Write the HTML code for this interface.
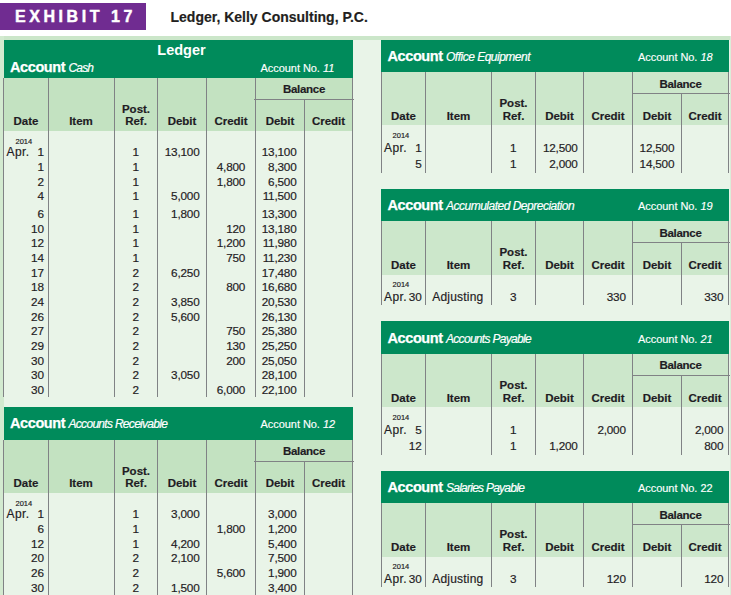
<!DOCTYPE html>
<html><head><meta charset="utf-8"><title>Exhibit 17</title>
<style>
html,body{margin:0;padding:0;}
body{width:731px;height:595px;background:#fff;position:relative;overflow:hidden;font-family:"Liberation Sans",sans-serif;color:#1f1c24;}
.r{position:absolute;}
.t{position:absolute;white-space:nowrap;-webkit-text-stroke:0.18px #1f1c24;}
.b{font-weight:bold;}
.i{font-style:italic;}
.w{color:#fff;-webkit-text-stroke:0;}
</style></head><body>
<div class="r" style="left:0px;top:36px;width:731px;height:559px;background:#e9f4e8;"></div>
<div class="r" style="left:0px;top:36px;width:731px;height:4px;background:#cbe6c9;"></div>
<div class="r" style="left:0px;top:36px;width:4px;height:559px;background:#d3ead0;"></div>
<div class="r" style="left:729.5px;top:36px;width:1.5px;height:559px;background:#dcedd9;"></div>
<div class="r" style="left:0px;top:3px;width:146px;height:26.5px;background:#702c91;"></div>
<div class="t b w" style="top:9.00px;font-size:16px;line-height:16px;left:15.00px;letter-spacing:3.55px;-webkit-text-stroke:0.45px #fff;">EXHIBIT 17</div>
<div class="t b" style="top:10.00px;font-size:14px;line-height:14px;left:170.50px;color:#231f20;">Ledger, Kelly Consulting, P.C.</div>
<div class="r" style="left:4px;top:40px;width:349px;height:37.5px;background:#008b5b;"></div>
<div class="r" style="left:4px;top:77.5px;width:349px;height:53.5px;background:#c3e2c1;"></div>
<div class="r" style="left:3px;top:77.5px;width:1px;height:319.5px;background:#808285;"></div>
<div class="r" style="left:48px;top:77.5px;width:1px;height:319.5px;background:#808285;"></div>
<div class="r" style="left:114px;top:77.5px;width:1px;height:319.5px;background:#808285;"></div>
<div class="r" style="left:157px;top:77.5px;width:1px;height:319.5px;background:#808285;"></div>
<div class="r" style="left:206px;top:77.5px;width:1px;height:319.5px;background:#808285;"></div>
<div class="r" style="left:255px;top:77.5px;width:1px;height:319.5px;background:#808285;"></div>
<div class="r" style="left:304px;top:99px;width:1px;height:298px;background:#808285;"></div>
<div class="r" style="left:352px;top:77.5px;width:1px;height:319.5px;background:#808285;"></div>
<div class="r" style="left:254px;top:99px;width:100px;height:1px;background:#808285;"></div>
<div class="t b w" style="top:60.00px;font-size:14.5px;line-height:14.5px;left:10.00px;letter-spacing:-0.4px;-webkit-text-stroke:0.25px #fff;">Account</div>
<div class="t i w" style="top:62.00px;font-size:12px;line-height:12px;left:68.50px;letter-spacing:-0.85px;-webkit-text-stroke:0.2px #fff;">Cash</div>
<div class="t w" style="top:63.00px;font-size:11px;line-height:11px;left:260.50px;letter-spacing:-0.05px;-webkit-text-stroke:0.15px #fff;">Account No. <i>11</i></div>
<div class="t b" style="top:116.00px;font-size:11.5px;line-height:11.5px;left:-74.00px;width:200px;text-align:center;">Date</div>
<div class="t b" style="top:116.00px;font-size:11.5px;line-height:11.5px;left:-19.00px;width:200px;text-align:center;">Item</div>
<div class="t b" style="top:104.00px;font-size:11.5px;line-height:11.5px;left:36.00px;width:200px;text-align:center;">Post.</div>
<div class="t b" style="top:116.00px;font-size:11.5px;line-height:11.5px;left:36.00px;width:200px;text-align:center;">Ref.</div>
<div class="t b" style="top:116.00px;font-size:11.5px;line-height:11.5px;left:82.00px;width:200px;text-align:center;">Debit</div>
<div class="t b" style="top:116.00px;font-size:11.5px;line-height:11.5px;left:131.00px;width:200px;text-align:center;">Credit</div>
<div class="t b" style="top:84.00px;font-size:11.5px;line-height:11.5px;left:204.00px;width:200px;text-align:center;letter-spacing:-0.3px;">Balance</div>
<div class="t b" style="top:116.00px;font-size:11.5px;line-height:11.5px;left:180.00px;width:200px;text-align:center;">Debit</div>
<div class="t b" style="top:116.00px;font-size:11.5px;line-height:11.5px;left:228.50px;width:200px;text-align:center;">Credit</div>
<div class="t " style="top:138.00px;font-size:7.5px;line-height:7.5px;left:15.50px;">2014</div>
<div class="t " style="top:146.00px;font-size:12.0px;line-height:12.0px;left:6.50px;letter-spacing:0.45px;">Apr.</div>
<div class="t " style="top:146.00px;font-size:11.75px;line-height:11.75px;left:-156.00px;width:200px;text-align:right;">1</div>
<div class="t " style="top:146.00px;font-size:11.75px;line-height:11.75px;left:35.70px;width:200px;text-align:center;">1</div>
<div class="t " style="top:146.00px;font-size:11.75px;line-height:11.75px;left:-0.50px;width:200px;text-align:right;letter-spacing:-0.2px;">13,100</div>
<div class="t " style="top:146.00px;font-size:11.75px;line-height:11.75px;left:96.50px;width:200px;text-align:right;letter-spacing:-0.2px;">13,100</div>
<div class="t " style="top:161.00px;font-size:11.75px;line-height:11.75px;left:-156.00px;width:200px;text-align:right;">1</div>
<div class="t " style="top:161.00px;font-size:11.75px;line-height:11.75px;left:35.70px;width:200px;text-align:center;">1</div>
<div class="t " style="top:161.00px;font-size:11.75px;line-height:11.75px;left:45.20px;width:200px;text-align:right;letter-spacing:-0.2px;">4,800</div>
<div class="t " style="top:161.00px;font-size:11.75px;line-height:11.75px;left:96.50px;width:200px;text-align:right;letter-spacing:-0.2px;">8,300</div>
<div class="t " style="top:176.00px;font-size:11.75px;line-height:11.75px;left:-156.00px;width:200px;text-align:right;">2</div>
<div class="t " style="top:176.00px;font-size:11.75px;line-height:11.75px;left:35.70px;width:200px;text-align:center;">1</div>
<div class="t " style="top:176.00px;font-size:11.75px;line-height:11.75px;left:45.20px;width:200px;text-align:right;letter-spacing:-0.2px;">1,800</div>
<div class="t " style="top:176.00px;font-size:11.75px;line-height:11.75px;left:96.50px;width:200px;text-align:right;letter-spacing:-0.2px;">6,500</div>
<div class="t " style="top:190.00px;font-size:11.75px;line-height:11.75px;left:-156.00px;width:200px;text-align:right;">4</div>
<div class="t " style="top:190.00px;font-size:11.75px;line-height:11.75px;left:35.70px;width:200px;text-align:center;">1</div>
<div class="t " style="top:190.00px;font-size:11.75px;line-height:11.75px;left:-0.50px;width:200px;text-align:right;letter-spacing:-0.2px;">5,000</div>
<div class="t " style="top:190.00px;font-size:11.75px;line-height:11.75px;left:96.50px;width:200px;text-align:right;letter-spacing:-0.2px;">11,500</div>
<div class="t " style="top:208.00px;font-size:11.75px;line-height:11.75px;left:-156.00px;width:200px;text-align:right;">6</div>
<div class="t " style="top:208.00px;font-size:11.75px;line-height:11.75px;left:35.70px;width:200px;text-align:center;">1</div>
<div class="t " style="top:208.00px;font-size:11.75px;line-height:11.75px;left:-0.50px;width:200px;text-align:right;letter-spacing:-0.2px;">1,800</div>
<div class="t " style="top:208.00px;font-size:11.75px;line-height:11.75px;left:96.50px;width:200px;text-align:right;letter-spacing:-0.2px;">13,300</div>
<div class="t " style="top:223.00px;font-size:11.75px;line-height:11.75px;left:-156.00px;width:200px;text-align:right;">10</div>
<div class="t " style="top:223.00px;font-size:11.75px;line-height:11.75px;left:35.70px;width:200px;text-align:center;">1</div>
<div class="t " style="top:223.00px;font-size:11.75px;line-height:11.75px;left:45.20px;width:200px;text-align:right;letter-spacing:-0.2px;">120</div>
<div class="t " style="top:223.00px;font-size:11.75px;line-height:11.75px;left:96.50px;width:200px;text-align:right;letter-spacing:-0.2px;">13,180</div>
<div class="t " style="top:237.00px;font-size:11.75px;line-height:11.75px;left:-156.00px;width:200px;text-align:right;">12</div>
<div class="t " style="top:237.00px;font-size:11.75px;line-height:11.75px;left:35.70px;width:200px;text-align:center;">1</div>
<div class="t " style="top:237.00px;font-size:11.75px;line-height:11.75px;left:45.20px;width:200px;text-align:right;letter-spacing:-0.2px;">1,200</div>
<div class="t " style="top:237.00px;font-size:11.75px;line-height:11.75px;left:96.50px;width:200px;text-align:right;letter-spacing:-0.2px;">11,980</div>
<div class="t " style="top:252.00px;font-size:11.75px;line-height:11.75px;left:-156.00px;width:200px;text-align:right;">14</div>
<div class="t " style="top:252.00px;font-size:11.75px;line-height:11.75px;left:35.70px;width:200px;text-align:center;">1</div>
<div class="t " style="top:252.00px;font-size:11.75px;line-height:11.75px;left:45.20px;width:200px;text-align:right;letter-spacing:-0.2px;">750</div>
<div class="t " style="top:252.00px;font-size:11.75px;line-height:11.75px;left:96.50px;width:200px;text-align:right;letter-spacing:-0.2px;">11,230</div>
<div class="t " style="top:267.00px;font-size:11.75px;line-height:11.75px;left:-156.00px;width:200px;text-align:right;">17</div>
<div class="t " style="top:267.00px;font-size:11.75px;line-height:11.75px;left:35.70px;width:200px;text-align:center;">2</div>
<div class="t " style="top:267.00px;font-size:11.75px;line-height:11.75px;left:-0.50px;width:200px;text-align:right;letter-spacing:-0.2px;">6,250</div>
<div class="t " style="top:267.00px;font-size:11.75px;line-height:11.75px;left:96.50px;width:200px;text-align:right;letter-spacing:-0.2px;">17,480</div>
<div class="t " style="top:281.00px;font-size:11.75px;line-height:11.75px;left:-156.00px;width:200px;text-align:right;">18</div>
<div class="t " style="top:281.00px;font-size:11.75px;line-height:11.75px;left:35.70px;width:200px;text-align:center;">2</div>
<div class="t " style="top:281.00px;font-size:11.75px;line-height:11.75px;left:45.20px;width:200px;text-align:right;letter-spacing:-0.2px;">800</div>
<div class="t " style="top:281.00px;font-size:11.75px;line-height:11.75px;left:96.50px;width:200px;text-align:right;letter-spacing:-0.2px;">16,680</div>
<div class="t " style="top:296.00px;font-size:11.75px;line-height:11.75px;left:-156.00px;width:200px;text-align:right;">24</div>
<div class="t " style="top:296.00px;font-size:11.75px;line-height:11.75px;left:35.70px;width:200px;text-align:center;">2</div>
<div class="t " style="top:296.00px;font-size:11.75px;line-height:11.75px;left:-0.50px;width:200px;text-align:right;letter-spacing:-0.2px;">3,850</div>
<div class="t " style="top:296.00px;font-size:11.75px;line-height:11.75px;left:96.50px;width:200px;text-align:right;letter-spacing:-0.2px;">20,530</div>
<div class="t " style="top:311.00px;font-size:11.75px;line-height:11.75px;left:-156.00px;width:200px;text-align:right;">26</div>
<div class="t " style="top:311.00px;font-size:11.75px;line-height:11.75px;left:35.70px;width:200px;text-align:center;">2</div>
<div class="t " style="top:311.00px;font-size:11.75px;line-height:11.75px;left:-0.50px;width:200px;text-align:right;letter-spacing:-0.2px;">5,600</div>
<div class="t " style="top:311.00px;font-size:11.75px;line-height:11.75px;left:96.50px;width:200px;text-align:right;letter-spacing:-0.2px;">26,130</div>
<div class="t " style="top:325.00px;font-size:11.75px;line-height:11.75px;left:-156.00px;width:200px;text-align:right;">27</div>
<div class="t " style="top:325.00px;font-size:11.75px;line-height:11.75px;left:35.70px;width:200px;text-align:center;">2</div>
<div class="t " style="top:325.00px;font-size:11.75px;line-height:11.75px;left:45.20px;width:200px;text-align:right;letter-spacing:-0.2px;">750</div>
<div class="t " style="top:325.00px;font-size:11.75px;line-height:11.75px;left:96.50px;width:200px;text-align:right;letter-spacing:-0.2px;">25,380</div>
<div class="t " style="top:340.00px;font-size:11.75px;line-height:11.75px;left:-156.00px;width:200px;text-align:right;">29</div>
<div class="t " style="top:340.00px;font-size:11.75px;line-height:11.75px;left:35.70px;width:200px;text-align:center;">2</div>
<div class="t " style="top:340.00px;font-size:11.75px;line-height:11.75px;left:45.20px;width:200px;text-align:right;letter-spacing:-0.2px;">130</div>
<div class="t " style="top:340.00px;font-size:11.75px;line-height:11.75px;left:96.50px;width:200px;text-align:right;letter-spacing:-0.2px;">25,250</div>
<div class="t " style="top:355.00px;font-size:11.75px;line-height:11.75px;left:-156.00px;width:200px;text-align:right;">30</div>
<div class="t " style="top:355.00px;font-size:11.75px;line-height:11.75px;left:35.70px;width:200px;text-align:center;">2</div>
<div class="t " style="top:355.00px;font-size:11.75px;line-height:11.75px;left:45.20px;width:200px;text-align:right;letter-spacing:-0.2px;">200</div>
<div class="t " style="top:355.00px;font-size:11.75px;line-height:11.75px;left:96.50px;width:200px;text-align:right;letter-spacing:-0.2px;">25,050</div>
<div class="t " style="top:369.00px;font-size:11.75px;line-height:11.75px;left:-156.00px;width:200px;text-align:right;">30</div>
<div class="t " style="top:369.00px;font-size:11.75px;line-height:11.75px;left:35.70px;width:200px;text-align:center;">2</div>
<div class="t " style="top:369.00px;font-size:11.75px;line-height:11.75px;left:-0.50px;width:200px;text-align:right;letter-spacing:-0.2px;">3,050</div>
<div class="t " style="top:369.00px;font-size:11.75px;line-height:11.75px;left:96.50px;width:200px;text-align:right;letter-spacing:-0.2px;">28,100</div>
<div class="t " style="top:384.00px;font-size:11.75px;line-height:11.75px;left:-156.00px;width:200px;text-align:right;">30</div>
<div class="t " style="top:384.00px;font-size:11.75px;line-height:11.75px;left:35.70px;width:200px;text-align:center;">2</div>
<div class="t " style="top:384.00px;font-size:11.75px;line-height:11.75px;left:45.20px;width:200px;text-align:right;letter-spacing:-0.2px;">6,000</div>
<div class="t " style="top:384.00px;font-size:11.75px;line-height:11.75px;left:96.50px;width:200px;text-align:right;letter-spacing:-0.2px;">22,100</div>
<div class="t b w" style="top:43.00px;font-size:14.5px;line-height:14.5px;left:157.30px;">Ledger</div>
<div class="r" style="left:4px;top:407px;width:349px;height:32.5px;background:#008b5b;"></div>
<div class="r" style="left:4px;top:439.5px;width:349px;height:53.5px;background:#c3e2c1;"></div>
<div class="r" style="left:3px;top:439.5px;width:1px;height:160.5px;background:#808285;"></div>
<div class="r" style="left:48px;top:439.5px;width:1px;height:160.5px;background:#808285;"></div>
<div class="r" style="left:114px;top:439.5px;width:1px;height:160.5px;background:#808285;"></div>
<div class="r" style="left:157px;top:439.5px;width:1px;height:160.5px;background:#808285;"></div>
<div class="r" style="left:206px;top:439.5px;width:1px;height:160.5px;background:#808285;"></div>
<div class="r" style="left:255px;top:439.5px;width:1px;height:160.5px;background:#808285;"></div>
<div class="r" style="left:304px;top:461px;width:1px;height:139px;background:#808285;"></div>
<div class="r" style="left:352px;top:439.5px;width:1px;height:160.5px;background:#808285;"></div>
<div class="r" style="left:254px;top:461px;width:100px;height:1px;background:#808285;"></div>
<div class="t b w" style="top:416.00px;font-size:14.5px;line-height:14.5px;left:10.00px;letter-spacing:-0.4px;-webkit-text-stroke:0.25px #fff;">Account</div>
<div class="t i w" style="top:418.00px;font-size:12px;line-height:12px;left:68.50px;letter-spacing:-0.7px;-webkit-text-stroke:0.2px #fff;">Accounts Receivable</div>
<div class="t w" style="top:419.00px;font-size:11px;line-height:11px;left:260.50px;letter-spacing:-0.05px;-webkit-text-stroke:0.15px #fff;">Account No. <i>12</i></div>
<div class="t b" style="top:478.00px;font-size:11.5px;line-height:11.5px;left:-74.00px;width:200px;text-align:center;">Date</div>
<div class="t b" style="top:478.00px;font-size:11.5px;line-height:11.5px;left:-19.00px;width:200px;text-align:center;">Item</div>
<div class="t b" style="top:466.00px;font-size:11.5px;line-height:11.5px;left:36.00px;width:200px;text-align:center;">Post.</div>
<div class="t b" style="top:478.00px;font-size:11.5px;line-height:11.5px;left:36.00px;width:200px;text-align:center;">Ref.</div>
<div class="t b" style="top:478.00px;font-size:11.5px;line-height:11.5px;left:82.00px;width:200px;text-align:center;">Debit</div>
<div class="t b" style="top:478.00px;font-size:11.5px;line-height:11.5px;left:131.00px;width:200px;text-align:center;">Credit</div>
<div class="t b" style="top:446.00px;font-size:11.5px;line-height:11.5px;left:204.00px;width:200px;text-align:center;letter-spacing:-0.3px;">Balance</div>
<div class="t b" style="top:478.00px;font-size:11.5px;line-height:11.5px;left:180.00px;width:200px;text-align:center;">Debit</div>
<div class="t b" style="top:478.00px;font-size:11.5px;line-height:11.5px;left:228.50px;width:200px;text-align:center;">Credit</div>
<div class="t " style="top:500.00px;font-size:7.5px;line-height:7.5px;left:15.50px;">2014</div>
<div class="t " style="top:508.00px;font-size:12.0px;line-height:12.0px;left:6.50px;letter-spacing:0.45px;">Apr.</div>
<div class="t " style="top:508.00px;font-size:11.75px;line-height:11.75px;left:-156.00px;width:200px;text-align:right;">1</div>
<div class="t " style="top:508.00px;font-size:11.75px;line-height:11.75px;left:35.70px;width:200px;text-align:center;">1</div>
<div class="t " style="top:508.00px;font-size:11.75px;line-height:11.75px;left:-0.50px;width:200px;text-align:right;letter-spacing:-0.2px;">3,000</div>
<div class="t " style="top:508.00px;font-size:11.75px;line-height:11.75px;left:96.50px;width:200px;text-align:right;letter-spacing:-0.2px;">3,000</div>
<div class="t " style="top:523.00px;font-size:11.75px;line-height:11.75px;left:-156.00px;width:200px;text-align:right;">6</div>
<div class="t " style="top:523.00px;font-size:11.75px;line-height:11.75px;left:35.70px;width:200px;text-align:center;">1</div>
<div class="t " style="top:523.00px;font-size:11.75px;line-height:11.75px;left:45.20px;width:200px;text-align:right;letter-spacing:-0.2px;">1,800</div>
<div class="t " style="top:523.00px;font-size:11.75px;line-height:11.75px;left:96.50px;width:200px;text-align:right;letter-spacing:-0.2px;">1,200</div>
<div class="t " style="top:538.00px;font-size:11.75px;line-height:11.75px;left:-156.00px;width:200px;text-align:right;">12</div>
<div class="t " style="top:538.00px;font-size:11.75px;line-height:11.75px;left:35.70px;width:200px;text-align:center;">1</div>
<div class="t " style="top:538.00px;font-size:11.75px;line-height:11.75px;left:-0.50px;width:200px;text-align:right;letter-spacing:-0.2px;">4,200</div>
<div class="t " style="top:538.00px;font-size:11.75px;line-height:11.75px;left:96.50px;width:200px;text-align:right;letter-spacing:-0.2px;">5,400</div>
<div class="t " style="top:552.00px;font-size:11.75px;line-height:11.75px;left:-156.00px;width:200px;text-align:right;">20</div>
<div class="t " style="top:552.00px;font-size:11.75px;line-height:11.75px;left:35.70px;width:200px;text-align:center;">2</div>
<div class="t " style="top:552.00px;font-size:11.75px;line-height:11.75px;left:-0.50px;width:200px;text-align:right;letter-spacing:-0.2px;">2,100</div>
<div class="t " style="top:552.00px;font-size:11.75px;line-height:11.75px;left:96.50px;width:200px;text-align:right;letter-spacing:-0.2px;">7,500</div>
<div class="t " style="top:567.00px;font-size:11.75px;line-height:11.75px;left:-156.00px;width:200px;text-align:right;">26</div>
<div class="t " style="top:567.00px;font-size:11.75px;line-height:11.75px;left:35.70px;width:200px;text-align:center;">2</div>
<div class="t " style="top:567.00px;font-size:11.75px;line-height:11.75px;left:45.20px;width:200px;text-align:right;letter-spacing:-0.2px;">5,600</div>
<div class="t " style="top:567.00px;font-size:11.75px;line-height:11.75px;left:96.50px;width:200px;text-align:right;letter-spacing:-0.2px;">1,900</div>
<div class="t " style="top:582.00px;font-size:11.75px;line-height:11.75px;left:-156.00px;width:200px;text-align:right;">30</div>
<div class="t " style="top:582.00px;font-size:11.75px;line-height:11.75px;left:35.70px;width:200px;text-align:center;">2</div>
<div class="t " style="top:582.00px;font-size:11.75px;line-height:11.75px;left:-0.50px;width:200px;text-align:right;letter-spacing:-0.2px;">1,500</div>
<div class="t " style="top:582.00px;font-size:11.75px;line-height:11.75px;left:96.50px;width:200px;text-align:right;letter-spacing:-0.2px;">3,400</div>
<div class="r" style="left:381px;top:40px;width:348px;height:32px;background:#008b5b;"></div>
<div class="r" style="left:381px;top:72px;width:348px;height:53px;background:#cce7cb;"></div>
<div class="r" style="left:381px;top:72px;width:1px;height:100.5px;background:#808285;"></div>
<div class="r" style="left:425px;top:72px;width:1px;height:100.5px;background:#808285;"></div>
<div class="r" style="left:491px;top:72px;width:1px;height:100.5px;background:#808285;"></div>
<div class="r" style="left:535px;top:72px;width:1px;height:100.5px;background:#808285;"></div>
<div class="r" style="left:583px;top:72px;width:1px;height:100.5px;background:#808285;"></div>
<div class="r" style="left:632px;top:72px;width:1px;height:100.5px;background:#808285;"></div>
<div class="r" style="left:681px;top:93px;width:1px;height:79.5px;background:#808285;"></div>
<div class="r" style="left:728px;top:72px;width:1px;height:100.5px;background:#808285;"></div>
<div class="r" style="left:632px;top:93px;width:98px;height:1px;background:#808285;"></div>
<div class="t b w" style="top:49.00px;font-size:14.5px;line-height:14.5px;left:387.50px;letter-spacing:-0.4px;-webkit-text-stroke:0.25px #fff;">Account</div>
<div class="t i w" style="top:51.00px;font-size:12px;line-height:12px;left:446.00px;letter-spacing:-0.5px;-webkit-text-stroke:0.2px #fff;">Office Equipment</div>
<div class="t w" style="top:52.00px;font-size:11px;line-height:11px;left:638.00px;letter-spacing:-0.05px;-webkit-text-stroke:0.15px #fff;">Account No. <i>18</i></div>
<div class="t b" style="top:111.00px;font-size:11.5px;line-height:11.5px;left:303.50px;width:200px;text-align:center;">Date</div>
<div class="t b" style="top:111.00px;font-size:11.5px;line-height:11.5px;left:358.50px;width:200px;text-align:center;">Item</div>
<div class="t b" style="top:98.00px;font-size:11.5px;line-height:11.5px;left:413.50px;width:200px;text-align:center;">Post.</div>
<div class="t b" style="top:111.00px;font-size:11.5px;line-height:11.5px;left:413.50px;width:200px;text-align:center;">Ref.</div>
<div class="t b" style="top:111.00px;font-size:11.5px;line-height:11.5px;left:459.50px;width:200px;text-align:center;">Debit</div>
<div class="t b" style="top:111.00px;font-size:11.5px;line-height:11.5px;left:508.00px;width:200px;text-align:center;">Credit</div>
<div class="t b" style="top:79.00px;font-size:11.5px;line-height:11.5px;left:580.50px;width:200px;text-align:center;letter-spacing:-0.3px;">Balance</div>
<div class="t b" style="top:111.00px;font-size:11.5px;line-height:11.5px;left:557.00px;width:200px;text-align:center;">Debit</div>
<div class="t b" style="top:111.00px;font-size:11.5px;line-height:11.5px;left:605.00px;width:200px;text-align:center;">Credit</div>
<div class="t " style="top:132.00px;font-size:7.5px;line-height:7.5px;left:392.60px;">2014</div>
<div class="t " style="top:142.00px;font-size:12.0px;line-height:12.0px;left:384.00px;letter-spacing:0.45px;">Apr.</div>
<div class="t " style="top:142.00px;font-size:11.75px;line-height:11.75px;left:221.80px;width:200px;text-align:right;">1</div>
<div class="t " style="top:142.00px;font-size:11.75px;line-height:11.75px;left:413.20px;width:200px;text-align:center;">1</div>
<div class="t " style="top:142.00px;font-size:11.75px;line-height:11.75px;left:377.70px;width:200px;text-align:right;letter-spacing:-0.2px;">12,500</div>
<div class="t " style="top:142.00px;font-size:11.75px;line-height:11.75px;left:474.30px;width:200px;text-align:right;letter-spacing:-0.2px;">12,500</div>
<div class="t " style="top:158.00px;font-size:11.75px;line-height:11.75px;left:221.80px;width:200px;text-align:right;">5</div>
<div class="t " style="top:158.00px;font-size:11.75px;line-height:11.75px;left:413.20px;width:200px;text-align:center;">1</div>
<div class="t " style="top:158.00px;font-size:11.75px;line-height:11.75px;left:377.70px;width:200px;text-align:right;letter-spacing:-0.2px;">2,000</div>
<div class="t " style="top:158.00px;font-size:11.75px;line-height:11.75px;left:474.30px;width:200px;text-align:right;letter-spacing:-0.2px;">14,500</div>
<div class="r" style="left:381px;top:189px;width:348px;height:32px;background:#008b5b;"></div>
<div class="r" style="left:381px;top:221px;width:348px;height:54px;background:#cce7cb;"></div>
<div class="r" style="left:381px;top:221px;width:1px;height:84px;background:#808285;"></div>
<div class="r" style="left:425px;top:221px;width:1px;height:84px;background:#808285;"></div>
<div class="r" style="left:491px;top:221px;width:1px;height:84px;background:#808285;"></div>
<div class="r" style="left:535px;top:221px;width:1px;height:84px;background:#808285;"></div>
<div class="r" style="left:583px;top:221px;width:1px;height:84px;background:#808285;"></div>
<div class="r" style="left:632px;top:221px;width:1px;height:84px;background:#808285;"></div>
<div class="r" style="left:681px;top:242px;width:1px;height:63px;background:#808285;"></div>
<div class="r" style="left:728px;top:221px;width:1px;height:84px;background:#808285;"></div>
<div class="r" style="left:632px;top:242px;width:98px;height:1px;background:#808285;"></div>
<div class="t b w" style="top:198.00px;font-size:14.5px;line-height:14.5px;left:387.50px;letter-spacing:-0.4px;-webkit-text-stroke:0.25px #fff;">Account</div>
<div class="t i w" style="top:200.00px;font-size:12px;line-height:12px;left:446.00px;letter-spacing:-0.5px;-webkit-text-stroke:0.2px #fff;">Accumulated Depreciation</div>
<div class="t w" style="top:201.00px;font-size:11px;line-height:11px;left:638.00px;letter-spacing:-0.05px;-webkit-text-stroke:0.15px #fff;">Account No. <i>19</i></div>
<div class="t b" style="top:260.00px;font-size:11.5px;line-height:11.5px;left:303.50px;width:200px;text-align:center;">Date</div>
<div class="t b" style="top:260.00px;font-size:11.5px;line-height:11.5px;left:358.50px;width:200px;text-align:center;">Item</div>
<div class="t b" style="top:247.00px;font-size:11.5px;line-height:11.5px;left:413.50px;width:200px;text-align:center;">Post.</div>
<div class="t b" style="top:260.00px;font-size:11.5px;line-height:11.5px;left:413.50px;width:200px;text-align:center;">Ref.</div>
<div class="t b" style="top:260.00px;font-size:11.5px;line-height:11.5px;left:459.50px;width:200px;text-align:center;">Debit</div>
<div class="t b" style="top:260.00px;font-size:11.5px;line-height:11.5px;left:508.00px;width:200px;text-align:center;">Credit</div>
<div class="t b" style="top:228.00px;font-size:11.5px;line-height:11.5px;left:580.50px;width:200px;text-align:center;letter-spacing:-0.3px;">Balance</div>
<div class="t b" style="top:260.00px;font-size:11.5px;line-height:11.5px;left:557.00px;width:200px;text-align:center;">Debit</div>
<div class="t b" style="top:260.00px;font-size:11.5px;line-height:11.5px;left:605.00px;width:200px;text-align:center;">Credit</div>
<div class="t " style="top:281.00px;font-size:7.5px;line-height:7.5px;left:392.60px;">2014</div>
<div class="t " style="top:291.00px;font-size:12.0px;line-height:12.0px;left:384.00px;letter-spacing:0.45px;">Apr.</div>
<div class="t " style="top:291.00px;font-size:11.75px;line-height:11.75px;left:221.80px;width:200px;text-align:right;">30</div>
<div class="t " style="top:291.00px;font-size:12.0px;line-height:12.0px;left:432.30px;letter-spacing:0.2px;">Adjusting</div>
<div class="t " style="top:291.00px;font-size:11.75px;line-height:11.75px;left:413.20px;width:200px;text-align:center;">3</div>
<div class="t " style="top:291.00px;font-size:11.75px;line-height:11.75px;left:425.80px;width:200px;text-align:right;letter-spacing:-0.2px;">330</div>
<div class="t " style="top:291.00px;font-size:11.75px;line-height:11.75px;left:523.30px;width:200px;text-align:right;letter-spacing:-0.2px;">330</div>
<div class="r" style="left:381px;top:321px;width:348px;height:33px;background:#008b5b;"></div>
<div class="r" style="left:381px;top:354px;width:348px;height:53px;background:#cce7cb;"></div>
<div class="r" style="left:381px;top:354px;width:1px;height:101px;background:#808285;"></div>
<div class="r" style="left:425px;top:354px;width:1px;height:101px;background:#808285;"></div>
<div class="r" style="left:491px;top:354px;width:1px;height:101px;background:#808285;"></div>
<div class="r" style="left:535px;top:354px;width:1px;height:101px;background:#808285;"></div>
<div class="r" style="left:583px;top:354px;width:1px;height:101px;background:#808285;"></div>
<div class="r" style="left:632px;top:354px;width:1px;height:101px;background:#808285;"></div>
<div class="r" style="left:681px;top:375px;width:1px;height:80px;background:#808285;"></div>
<div class="r" style="left:728px;top:354px;width:1px;height:101px;background:#808285;"></div>
<div class="r" style="left:632px;top:375px;width:98px;height:1px;background:#808285;"></div>
<div class="t b w" style="top:331.00px;font-size:14.5px;line-height:14.5px;left:387.50px;letter-spacing:-0.4px;-webkit-text-stroke:0.25px #fff;">Account</div>
<div class="t i w" style="top:333.00px;font-size:12px;line-height:12px;left:446.00px;letter-spacing:-0.7px;-webkit-text-stroke:0.2px #fff;">Accounts Payable</div>
<div class="t w" style="top:334.00px;font-size:11px;line-height:11px;left:638.00px;letter-spacing:-0.05px;-webkit-text-stroke:0.15px #fff;">Account No. <i>21</i></div>
<div class="t b" style="top:393.00px;font-size:11.5px;line-height:11.5px;left:303.50px;width:200px;text-align:center;">Date</div>
<div class="t b" style="top:393.00px;font-size:11.5px;line-height:11.5px;left:358.50px;width:200px;text-align:center;">Item</div>
<div class="t b" style="top:380.00px;font-size:11.5px;line-height:11.5px;left:413.50px;width:200px;text-align:center;">Post.</div>
<div class="t b" style="top:393.00px;font-size:11.5px;line-height:11.5px;left:413.50px;width:200px;text-align:center;">Ref.</div>
<div class="t b" style="top:393.00px;font-size:11.5px;line-height:11.5px;left:459.50px;width:200px;text-align:center;">Debit</div>
<div class="t b" style="top:393.00px;font-size:11.5px;line-height:11.5px;left:508.00px;width:200px;text-align:center;">Credit</div>
<div class="t b" style="top:360.00px;font-size:11.5px;line-height:11.5px;left:580.50px;width:200px;text-align:center;letter-spacing:-0.3px;">Balance</div>
<div class="t b" style="top:393.00px;font-size:11.5px;line-height:11.5px;left:557.00px;width:200px;text-align:center;">Debit</div>
<div class="t b" style="top:393.00px;font-size:11.5px;line-height:11.5px;left:605.00px;width:200px;text-align:center;">Credit</div>
<div class="t " style="top:414.00px;font-size:7.5px;line-height:7.5px;left:392.60px;">2014</div>
<div class="t " style="top:424.00px;font-size:12.0px;line-height:12.0px;left:384.00px;letter-spacing:0.45px;">Apr.</div>
<div class="t " style="top:424.00px;font-size:11.75px;line-height:11.75px;left:221.80px;width:200px;text-align:right;">5</div>
<div class="t " style="top:424.00px;font-size:11.75px;line-height:11.75px;left:413.20px;width:200px;text-align:center;">1</div>
<div class="t " style="top:424.00px;font-size:11.75px;line-height:11.75px;left:425.80px;width:200px;text-align:right;letter-spacing:-0.2px;">2,000</div>
<div class="t " style="top:424.00px;font-size:11.75px;line-height:11.75px;left:523.30px;width:200px;text-align:right;letter-spacing:-0.2px;">2,000</div>
<div class="t " style="top:440.00px;font-size:11.75px;line-height:11.75px;left:221.80px;width:200px;text-align:right;">12</div>
<div class="t " style="top:440.00px;font-size:11.75px;line-height:11.75px;left:413.20px;width:200px;text-align:center;">1</div>
<div class="t " style="top:440.00px;font-size:11.75px;line-height:11.75px;left:377.70px;width:200px;text-align:right;letter-spacing:-0.2px;">1,200</div>
<div class="t " style="top:440.00px;font-size:11.75px;line-height:11.75px;left:523.30px;width:200px;text-align:right;letter-spacing:-0.2px;">800</div>
<div class="r" style="left:381px;top:471px;width:348px;height:32px;background:#008b5b;"></div>
<div class="r" style="left:381px;top:503px;width:348px;height:54px;background:#cce7cb;"></div>
<div class="r" style="left:381px;top:503px;width:1px;height:84px;background:#808285;"></div>
<div class="r" style="left:425px;top:503px;width:1px;height:84px;background:#808285;"></div>
<div class="r" style="left:491px;top:503px;width:1px;height:84px;background:#808285;"></div>
<div class="r" style="left:535px;top:503px;width:1px;height:84px;background:#808285;"></div>
<div class="r" style="left:583px;top:503px;width:1px;height:84px;background:#808285;"></div>
<div class="r" style="left:632px;top:503px;width:1px;height:84px;background:#808285;"></div>
<div class="r" style="left:681px;top:524px;width:1px;height:63px;background:#808285;"></div>
<div class="r" style="left:728px;top:503px;width:1px;height:84px;background:#808285;"></div>
<div class="r" style="left:632px;top:524px;width:98px;height:1px;background:#808285;"></div>
<div class="t b w" style="top:480.00px;font-size:14.5px;line-height:14.5px;left:387.50px;letter-spacing:-0.4px;-webkit-text-stroke:0.25px #fff;">Account</div>
<div class="t i w" style="top:482.00px;font-size:12px;line-height:12px;left:446.00px;letter-spacing:-0.75px;-webkit-text-stroke:0.2px #fff;">Salaries Payable</div>
<div class="t w" style="top:483.00px;font-size:11px;line-height:11px;left:638.00px;letter-spacing:-0.05px;-webkit-text-stroke:0.15px #fff;">Account No. 22</div>
<div class="t b" style="top:542.00px;font-size:11.5px;line-height:11.5px;left:303.50px;width:200px;text-align:center;">Date</div>
<div class="t b" style="top:542.00px;font-size:11.5px;line-height:11.5px;left:358.50px;width:200px;text-align:center;">Item</div>
<div class="t b" style="top:529.00px;font-size:11.5px;line-height:11.5px;left:413.50px;width:200px;text-align:center;">Post.</div>
<div class="t b" style="top:542.00px;font-size:11.5px;line-height:11.5px;left:413.50px;width:200px;text-align:center;">Ref.</div>
<div class="t b" style="top:542.00px;font-size:11.5px;line-height:11.5px;left:459.50px;width:200px;text-align:center;">Debit</div>
<div class="t b" style="top:542.00px;font-size:11.5px;line-height:11.5px;left:508.00px;width:200px;text-align:center;">Credit</div>
<div class="t b" style="top:510.00px;font-size:11.5px;line-height:11.5px;left:580.50px;width:200px;text-align:center;letter-spacing:-0.3px;">Balance</div>
<div class="t b" style="top:542.00px;font-size:11.5px;line-height:11.5px;left:557.00px;width:200px;text-align:center;">Debit</div>
<div class="t b" style="top:542.00px;font-size:11.5px;line-height:11.5px;left:605.00px;width:200px;text-align:center;">Credit</div>
<div class="t " style="top:563.00px;font-size:7.5px;line-height:7.5px;left:392.60px;">2014</div>
<div class="t " style="top:573.00px;font-size:12.0px;line-height:12.0px;left:384.00px;letter-spacing:0.45px;">Apr.</div>
<div class="t " style="top:573.00px;font-size:11.75px;line-height:11.75px;left:221.80px;width:200px;text-align:right;">30</div>
<div class="t " style="top:573.00px;font-size:12.0px;line-height:12.0px;left:432.30px;letter-spacing:0.2px;">Adjusting</div>
<div class="t " style="top:573.00px;font-size:11.75px;line-height:11.75px;left:413.20px;width:200px;text-align:center;">3</div>
<div class="t " style="top:573.00px;font-size:11.75px;line-height:11.75px;left:425.80px;width:200px;text-align:right;letter-spacing:-0.2px;">120</div>
<div class="t " style="top:573.00px;font-size:11.75px;line-height:11.75px;left:523.30px;width:200px;text-align:right;letter-spacing:-0.2px;">120</div>
</body></html>
